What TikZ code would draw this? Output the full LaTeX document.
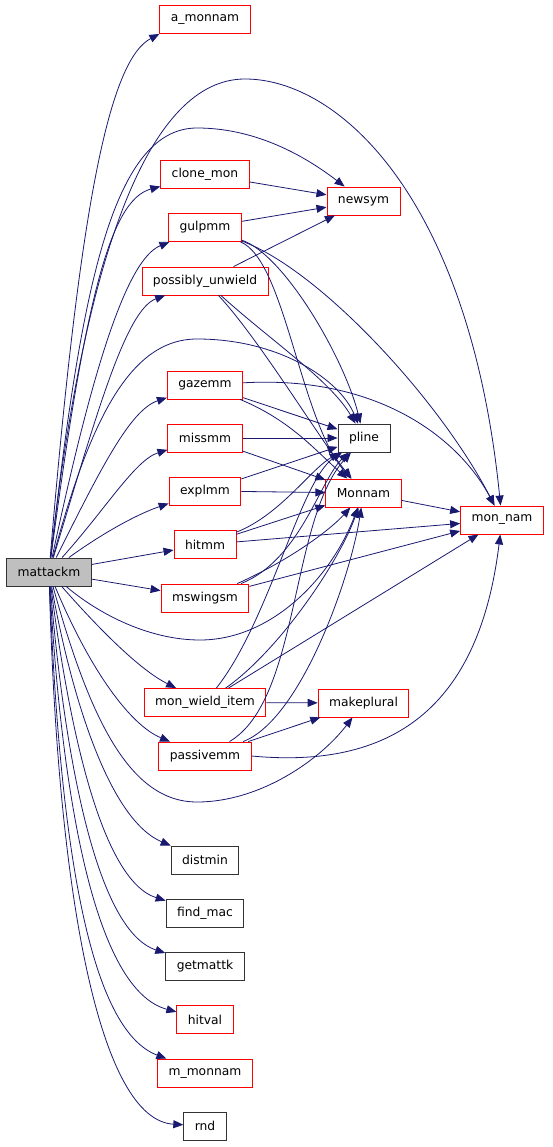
\documentclass[tikz,border=0pt]{standalone}
\usepackage{fontspec}
\setmainfont{DejaVu Sans}
\usepackage{xcolor}
\usepackage{tikz}
\usetikzlibrary{arrows.meta}

\definecolor{edgeblue}{RGB}{25,25,112}
\definecolor{fnred}{RGB}{255,0,0}
\definecolor{rootgray}{RGB}{191,191,191}

\begin{document}
\begin{tikzpicture}[
  x=1pt, y=1pt,
  box/.style  ={draw, line width=0.9pt, align=center, inner xsep=11pt, inner ysep=0pt,
                minimum height=28pt, font=\fontsize{12.3}{14}\selectfont, fill=white},
  fn/.style   ={box, draw=fnred},
  leaf/.style ={box, draw=black!80},
  root/.style ={box, draw=black!80, fill=rootgray},
  e/.style    ={-{Triangle[length=10pt,width=8pt]}, draw=edgeblue, line width=0.8pt},
]
\useasboundingbox (0,0) rectangle (552,-1147);
% ---------------- caller ----------------
\node[root] (mattackm) at (49,-572) {mattackm};
% ---------------- callees (middle column) ----------------
\node[fn]   (amonnam)  at (205,-19.5)  {a\_monnam};
\node[fn]   (clonemon) at (205,-174.5) {clone\_mon};
\node[fn]   (gulpmm)   at (205,-227.5) {gulpmm};
\node[fn]   (unwield)  at (205,-281)   {possibly\_unwield};
\node[fn]   (gazemm)   at (205,-385)   {gazemm};
\node[fn]   (missmm)   at (205,-438)   {missmm};
\node[fn]   (explmm)   at (205,-491)   {explmm};
\node[fn]   (hitmm)    at (205,-544.5) {hitmm};
\node[fn]   (mswingsm) at (205,-598)   {mswingsm};
\node[fn]   (wielditem) at (205,-702.5) {mon\_wield\_item};
\node[fn]   (passivemm) at (205,-756)  {passivemm};
\node[leaf] (distmin)  at (205,-860)   {distmin};
\node[leaf] (findmac)  at (205,-913)   {find\_mac};
\node[leaf] (getmattk) at (205,-966)   {getmattk};
\node[fn]   (hitval)   at (205,-1019.5) {hitval};
\node[fn]   (mmonnam)  at (205,-1073)  {m\_monnam};
\node[leaf] (rnd)      at (205,-1126)  {rnd};
% ---------------- shared helpers (right) ----------------
\node[fn]   (newsym)   at (363.5,-201) {newsym};
\node[leaf] (pline)    at (364,-438)   {pline};
\node[fn]   (Monnam)   at (363.5,-493) {Monnam};
\node[fn]   (makeplural) at (363.5,-703) {makeplural};
\node[fn]   (monnam)   at (502,-520)   {mon\_nam};

% ---------------- mattackm, upper fan ----------------
\draw[e] (mattackm) .. controls (80,-200) and (110,-60) .. (amonnam.south west);
\draw[e] (mattackm) .. controls (85,-250) and (150,-79) .. (245,-79)
                    .. controls (340,-79) and (470,-200) .. (monnam);
\draw[e] (mattackm) .. controls (80,-300) and (110,-128) .. (197,-128)
                    .. controls (260,-128) and (310,-160) .. (newsym);
\draw[e] (mattackm) .. controls (85,-300) and (110,-200) .. (clonemon);
\draw[e] (mattackm) .. controls (90,-380) and (125,-260) .. (gulpmm);
\draw[e] (mattackm) .. controls (95,-420) and (125,-310) .. (unwield);
\draw[e] (mattackm) .. controls (90,-420) and (130,-339) .. (197,-339)
                    .. controls (280,-339) and (340,-380) .. (pline);
\draw[e] (mattackm) .. controls (100,-470) and (130,-410) .. (gazemm);
\draw[e] (mattackm) .. controls (105,-510) and (135,-460) .. (missmm);
\draw[e] (mattackm) .. controls (100,-535) and (135,-515) .. (explmm);
\draw[e] (mattackm) -- (hitmm);
\draw[e] (mattackm) -- (mswingsm);
% ---------------- mattackm, lower fan ----------------
\draw[e] (mattackm) .. controls (100,-615) and (150,-640) .. (200,-640)
                    .. controls (270,-640) and (330,-580) .. (Monnam);
\draw[e] (mattackm) .. controls (100,-630) and (140,-670) .. (wielditem);
\draw[e] (mattackm) .. controls (90,-670) and (130,-725) .. (passivemm);
\draw[e] (mattackm) .. controls (90,-720) and (130,-802) .. (197,-802)
                    .. controls (260,-802) and (320,-760) .. (makeplural);
\draw[e] (mattackm) .. controls (72,-700) and (110,-820) .. (distmin);
\draw[e] (mattackm) .. controls (68,-720) and (100,-880) .. (findmac);
\draw[e] (mattackm) .. controls (64,-750) and (95,-930) .. (getmattk);
\draw[e] (mattackm) .. controls (62,-800) and (95,-990) .. (hitval);
\draw[e] (mattackm) .. controls (60,-850) and (90,-1030) .. (mmonnam);
\draw[e] (mattackm) .. controls (58,-900) and (100,-1120) .. (rnd);

% ---------------- into newsym ----------------
\draw[e] (clonemon) -- (newsym);
\draw[e] (gulpmm)   -- (newsym);
\draw[e] (unwield)  -- (newsym);
% ---------------- gulpmm / possibly_unwield ----------------
\draw[e] (gulpmm)  .. controls (285,-255) and (345,-360) .. (pline);
\draw[e] (gulpmm)  .. controls (285,-260) and (300,-420) .. (Monnam);
\draw[e] (gulpmm)  .. controls (320,-270) and (440,-400) .. (monnam);
\draw[e] (unwield) .. controls (270,-340) and (330,-380) .. (pline);
\draw[e] (unwield) .. controls (260,-340) and (320,-440) .. (Monnam);
% ---------------- gazemm .. explmm ----------------
\draw[e] (gazemm) .. controls (380,-375) and (460,-440) .. (monnam);
\draw[e] (gazemm) -- (pline);
\draw[e] (gazemm) .. controls (290,-420) and (315,-450) .. (Monnam);
\draw[e] (missmm) -- (pline);
\draw[e] (missmm) -- (Monnam);
\draw[e] (explmm) -- (pline);
\draw[e] (explmm) -- (Monnam);
% ---------------- hitmm / mswingsm ----------------
\draw[e] (hitmm) .. controls (280,-515) and (310,-470) .. (pline);
\draw[e] (hitmm) -- (Monnam);
\draw[e] (hitmm) -- (monnam);
\draw[e] (mswingsm) .. controls (300,-560) and (320,-480) .. (pline);
\draw[e] (mswingsm) .. controls (290,-560) and (330,-530) .. (Monnam);
\draw[e] (mswingsm) -- (monnam);
% ---------------- mon_wield_item / passivemm ----------------
\draw[e] (wielditem) .. controls (270,-620) and (300,-480) .. (pline);
\draw[e] (wielditem) .. controls (280,-650) and (340,-560) .. (Monnam);
\draw[e] (wielditem) -- (monnam);
\draw[e] (wielditem) -- (makeplural);
\draw[e] (passivemm) .. controls (300,-700) and (290,-520) .. (pline);
\draw[e] (passivemm) .. controls (300,-720) and (350,-580) .. (Monnam);
\draw[e] (passivemm) -- (makeplural);
\draw[e] (passivemm.east) .. controls (400,-770) and (480,-700) .. (monnam);
% ---------------- Monnam ----------------
\draw[e] (Monnam) -- (monnam);
\end{tikzpicture}
\end{document}
